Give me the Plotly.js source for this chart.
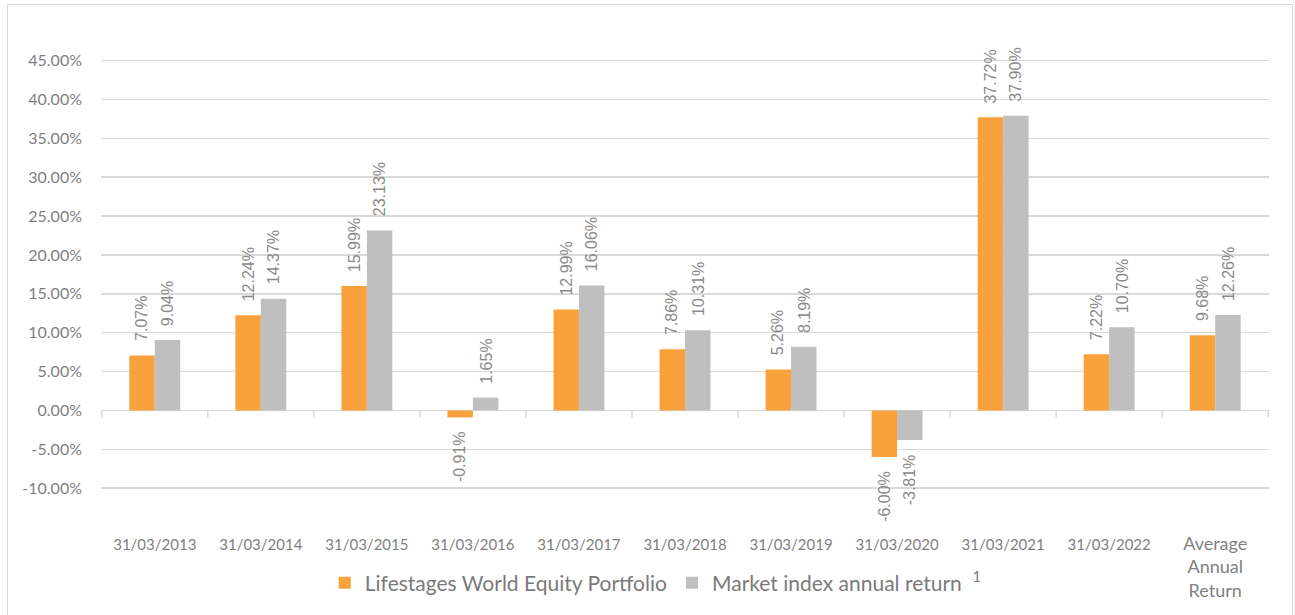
<!DOCTYPE html>
<html>
<head>
<meta charset="utf-8">
<script src="https://cdn.plot.ly/plotly-3.0.1.min.js"></script>
<style>
  html, body { margin: 0; padding: 0; background: #ffffff; }
  #wrap { position: relative; width: 1295px; height: 615px; }
  #chart { position: absolute; left: 0; top: 0; width: 1295px; height: 615px; }
  #frame { position: absolute; left: 7px; top: 4px; width: 1286px; height: 620px; border: 1.5px solid #d9d9d9; box-sizing: border-box; pointer-events: none; }
</style>
</head>
<body>
<div id="wrap">
  <div id="chart"></div>
  <div id="frame"></div>
</div>
<script>
const categories = ['31/03/2013', '31/03/2014', '31/03/2015', '31/03/2016', '31/03/2017', '31/03/2018', '31/03/2019', '31/03/2020', '31/03/2021', '31/03/2022', 'Average Annual Return'];
const categoryLabels = ['31/03/2013', '31/03/2014', '31/03/2015', '31/03/2016', '31/03/2017', '31/03/2018', '31/03/2019', '31/03/2020', '31/03/2021', '31/03/2022', 'Average<br>Annual<br>Return'];
const portfolioReturns = [7.07, 12.24, 15.99, -0.91, 12.99, 7.86, 5.26, -6.00, 37.72, 7.22, 9.68];
const marketReturns = [9.04, 14.37, 23.13, 1.65, 16.06, 10.31, 8.19, -3.81, 37.90, 10.70, 12.26];
const yTickValues = [-10, -5, 0, 5, 10, 15, 20, 25, 30, 35, 40, 45];
const seriesNames = ['Lifestages World Equity Portfolio', 'Market index annual return  <sup>1</sup>'];

const ORANGE = '#F9A23B';
const GREY = '#BFBFBF';
const TEXT = '#7f7f7f';
const GRID = '#d9d9d9';
const BAR_PX = 25.5;

const fmt = v => v.toFixed(2) + '%';
// dates drawn slightly smaller than the multi-line label (as in the reference)
const tickText = categoryLabels.map(t => t.indexOf('<br>') >= 0 ? t : '<span style="font-size:15px">' + t + '</span>');

const traces = [
  { type: 'bar', name: seriesNames[0], x: categories, y: portfolioReturns, marker: { color: ORANGE }, hoverinfo: 'none' },
  { type: 'bar', name: seriesNames[1], x: categories, y: marketReturns, marker: { color: GREY }, hoverinfo: 'none' }
];

const annotations = [];
[portfolioReturns, marketReturns].forEach((series, s) => {
  series.forEach((v, i) => {
    const pos = v >= 0;
    annotations.push({
      x: categories[i], y: v, xref: 'x', yref: 'y',
      text: fmt(v), showarrow: false, textangle: -90,
      xshift: (s === 0 ? -1 : 1) * BAR_PX / 2,
      yanchor: pos ? 'bottom' : 'top', xanchor: 'center',
      yshift: pos ? 12 : -12,
      font: { family: 'Liberation Sans, Arial, sans-serif', size: 16, color: '#8a8a8a' }
    });
  });
});

const shapes = [];
for (let i = 0; i <= categories.length; i++) {
  shapes.push({
    type: 'line', xref: 'x', yref: 'y', x0: i - 0.5, x1: i - 0.5,
    ysizemode: 'pixel', yanchor: 0, y0: 0, y1: -7,
    line: { color: GRID, width: 1.5 }
  });
}

const layout = {
  width: 1295, height: 615,
  margin: { l: 101, r: 26, t: 45, b: 87 },
  paper_bgcolor: 'rgba(0,0,0,0)', plot_bgcolor: '#ffffff',
  barmode: 'group', bargap: 0.52, bargroupgap: 0,
  showlegend: true,
  legend: {
    orientation: 'h', x: 0.475, xanchor: 'center', y: -0.114, yanchor: 'middle',
    font: { family: 'Lato, sans-serif', size: 21, color: '#7a7a7a' },
    itemclick: false, itemdoubleclick: false, traceorder: 'normal'
  },
  xaxis: {
    type: 'category', showgrid: false, zeroline: false, showline: false,
    ticks: '', ticklabelstandoff: 4,
    tickvals: categories, ticktext: tickText,
    tickfont: { family: 'Lato, sans-serif', size: 18, color: TEXT },
    fixedrange: true
  },
  yaxis: {
    range: [-15, 47], tickvals: yTickValues, ticktext: yTickValues.map(fmt),
    showgrid: true, gridcolor: GRID, gridwidth: 1.5,
    zeroline: true, zerolinecolor: GRID, zerolinewidth: 1.5,
    showline: false, ticks: '', ticklabelstandoff: 18,
    tickfont: { family: 'Lato, sans-serif', size: 16, color: TEXT },
    fixedrange: true
  },
  annotations: annotations,
  shapes: shapes
};

Plotly.newPlot('chart', traces, layout, { displayModeBar: false, staticPlot: true });
</script>
</body>
</html>
